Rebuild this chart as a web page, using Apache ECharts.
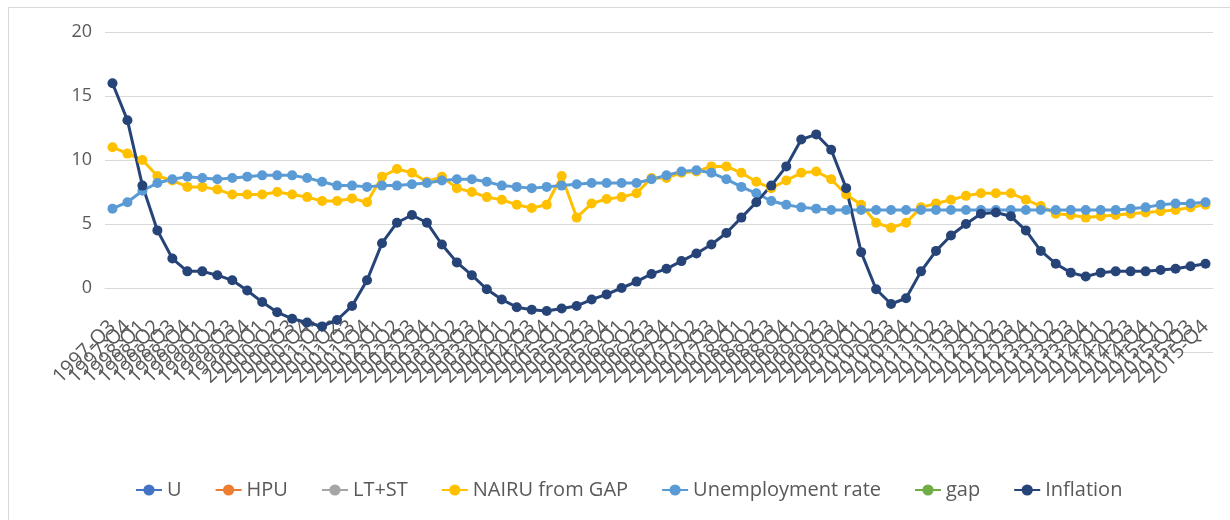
<!DOCTYPE html>
<html>
<head>
<meta charset="utf-8">
<script src="https://cdn.jsdelivr.net/npm/echarts@6/dist/echarts.min.js"></script>
<style>
  html, body { margin: 0; padding: 0; background: #fff; }
  #chart { width: 1230px; height: 520px; }
</style>
</head>
<body>
<div id="chart"></div>
<script>
// quarters 1997-Q3 .. 2015-Q4
const quarters = [];
for (let y = 1997; y <= 2015; y++) {
  for (let q = 1; q <= 4; q++) {
    if (y === 1997 && q < 3) continue;
    quarters.push(y + '-Q' + q);
  }
}

// series with no visible data, legend only
const uData = [];
const hpuData = [];
const ltstData = [];
const gapData = [];

const nairuGap = [11.0,10.5,10.0,8.75,8.4,7.9,7.9,7.7,7.3,7.3,
  7.3,7.5,7.3,7.1,6.8,6.8,7.0,6.7,8.7,9.3,
  9.0,8.3,8.7,7.8,7.5,7.1,6.9,6.5,6.25,6.5,
  8.75,5.5,6.6,6.95,7.1,7.4,8.6,8.6,9.0,9.1,
  9.5,9.5,9.0,8.3,7.8,8.4,9.0,9.1,8.5,7.3,
  6.5,5.1,4.7,5.1,6.3,6.6,6.9,7.2,7.4,7.4,
  7.4,6.9,6.4,5.8,5.7,5.5,5.6,5.7,5.8,5.9,
  6.0,6.1,6.3,6.5];

const unempRate = [6.2,6.7,7.6,8.2,8.5,8.7,8.6,8.5,8.6,8.7,
  8.8,8.8,8.8,8.6,8.3,8.0,8.0,7.9,8.0,8.0,
  8.1,8.2,8.4,8.5,8.5,8.3,8.0,7.9,7.8,7.9,
  8.0,8.1,8.2,8.2,8.2,8.2,8.5,8.8,9.1,9.2,
  9.0,8.5,7.9,7.4,6.8,6.5,6.3,6.2,6.1,6.1,
  6.1,6.1,6.1,6.1,6.1,6.1,6.1,6.1,6.1,6.1,
  6.1,6.1,6.1,6.1,6.1,6.1,6.1,6.1,6.2,6.3,
  6.5,6.6,6.6,6.7];

const inflation = [16.0,13.1,8.0,4.5,2.3,1.3,1.3,1.0,0.6,-0.2,
  -1.1,-1.9,-2.4,-2.7,-3.0,-2.5,-1.4,0.6,3.5,5.1,
  5.7,5.1,3.4,2.0,1.0,-0.1,-0.9,-1.5,-1.7,-1.8,
  -1.6,-1.4,-0.9,-0.5,0.0,0.5,1.1,1.5,2.1,2.7,
  3.4,4.3,5.5,6.7,8.0,9.5,11.6,12.0,10.8,7.8,
  2.8,-0.1,-1.25,-0.8,1.3,2.9,4.1,5.0,5.8,5.9,
  5.6,4.5,2.9,1.9,1.2,0.9,1.2,1.3,1.3,1.3,
  1.4,1.5,1.7,1.9];

const FONT = 'Open Sans';
const TXT = '#595959';

function lineSeries(name, data, color) {
  return {
    name: name,
    type: 'line',
    data: data,
    symbol: 'circle',
    symbolSize: 10,
    showSymbol: true,
    color: color,
    lineStyle: { width: 3, color: color },
    itemStyle: { color: color },
    emphasis: { disabled: true },
    animation: false
  };
}

const chart = echarts.init(document.getElementById('chart'));
chart.setOption({
  backgroundColor: '#fff',
  textStyle: { fontFamily: FONT },
  graphic: [
    { type: 'line', shape: { x1: 8, y1: 7.5, x2: 1230, y2: 7.5 }, style: { stroke: '#d9d9d9', lineWidth: 1 } },
    { type: 'line', shape: { x1: 8.5, y1: 7, x2: 8.5, y2: 520 }, style: { stroke: '#d9d9d9', lineWidth: 1 } }
  ],
  grid: { left: 105, right: 17, top: 32, height: 320 },
  legend: {
    left: 130,
    top: 475,
    itemWidth: 26,
    itemHeight: 14,
    itemGap: 33,
    textStyle: { color: TXT, fontSize: 20, fontFamily: FONT },
    data: ['U', 'HPU', 'LT+ST', 'NAIRU from GAP', 'Unemployment rate', 'gap', 'Inflation']
  },
  xAxis: {
    type: 'category',
    data: quarters,
    boundaryGap: true,
    offset: -64, // sit the category labels under the 0 line
    axisLine: { onZero: false, lineStyle: { color: '#d9d9d9', width: 1 } },
    axisTick: { show: false },
    axisLabel: {
      interval: 0,
      rotate: 45,
      margin: 36,
      color: TXT,
      fontSize: 20,
      fontFamily: FONT
    }
  },
  yAxis: {
    type: 'value',
    min: -5,
    max: 20,
    interval: 5,
    axisLine: { show: false },
    axisTick: { show: false },
    splitLine: { lineStyle: { color: '#d9d9d9', width: 1 } },
    axisLabel: {
      margin: 13,
      color: TXT,
      fontSize: 18,
      fontFamily: FONT,
      formatter: v => (v < 0 ? '' : String(v))
    }
  },
  series: [
    lineSeries('U', uData, '#4472C4'),
    lineSeries('HPU', hpuData, '#ED7D31'),
    lineSeries('LT+ST', ltstData, '#A5A5A5'),
    lineSeries('NAIRU from GAP', nairuGap, '#FFC000'),
    lineSeries('Unemployment rate', unempRate, '#5B9BD5'),
    lineSeries('gap', gapData, '#70AD47'),
    lineSeries('Inflation', inflation, '#264478')
  ]
});
</script>
</body>
</html>
